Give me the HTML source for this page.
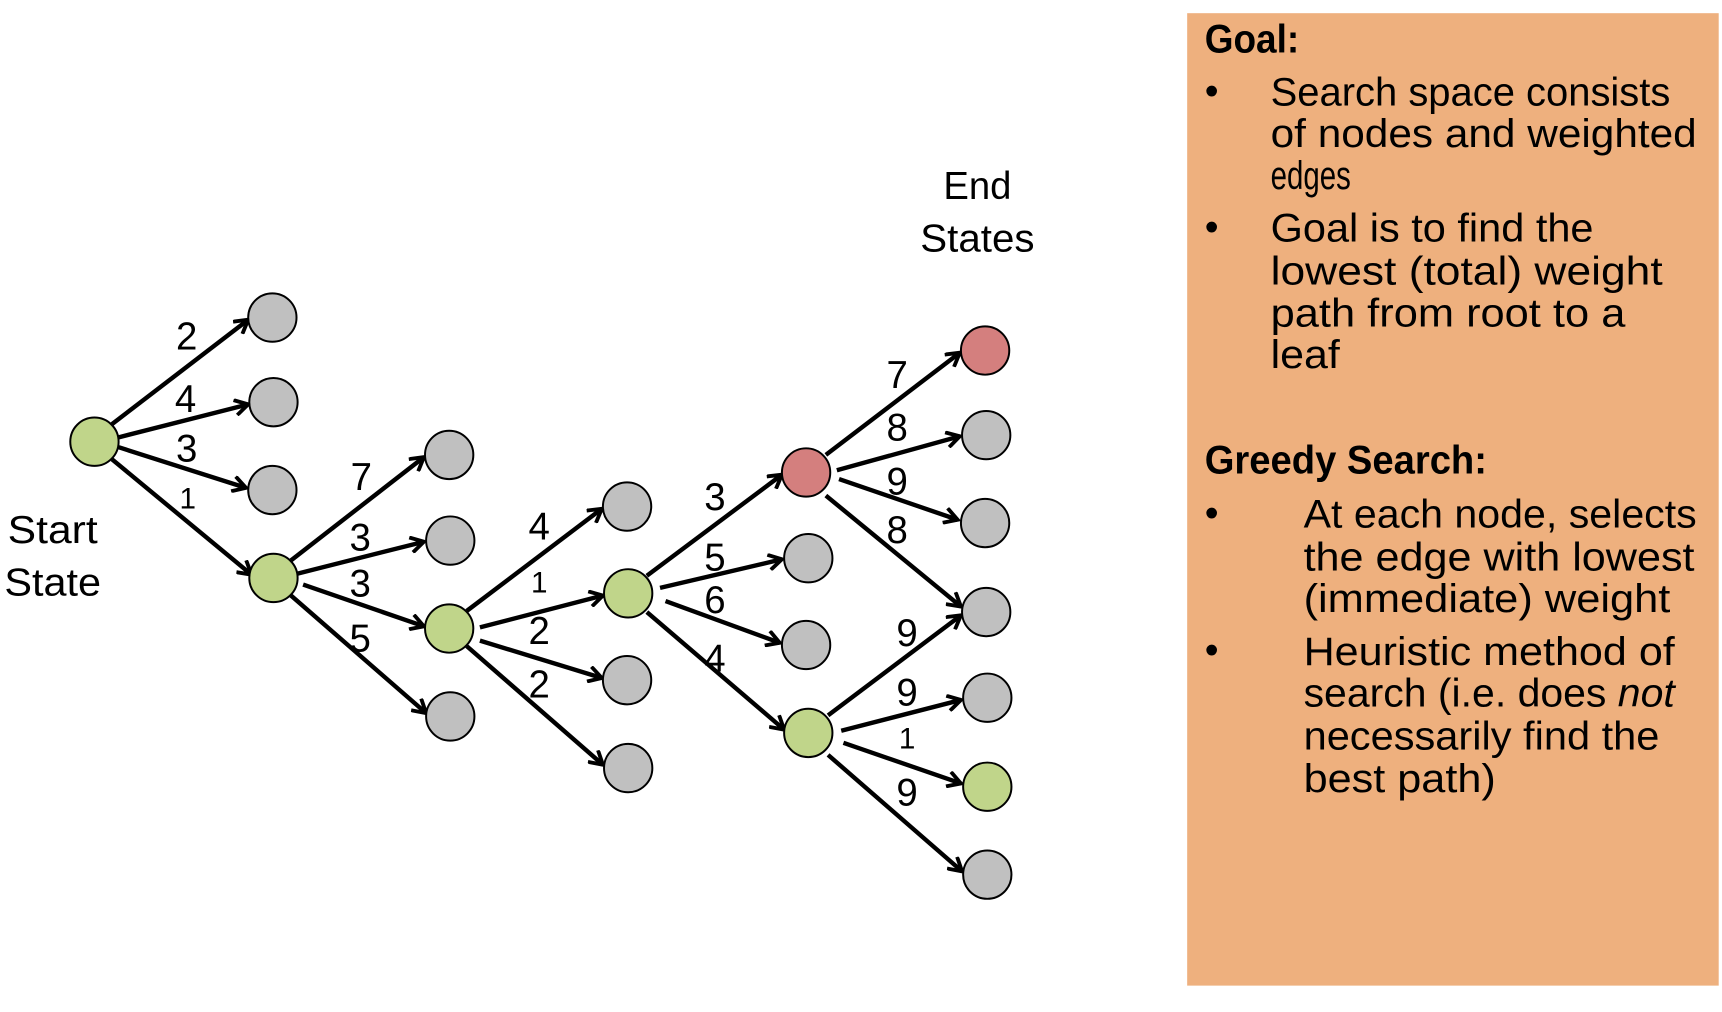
<!DOCTYPE html>
<html><head><meta charset="utf-8"><style>
html,body{margin:0;padding:0;background:#fff;}
svg{display:block}
text{font-family:"Liberation Sans",sans-serif;fill:#000}
</style></head><body>
<svg width="1722" height="1012" viewBox="0 0 1568 921" preserveAspectRatio="none" xmlns="http://www.w3.org/2000/svg">
<defs>
<marker id="a" markerWidth="16" markerHeight="16" refX="13" refY="8" orient="auto" markerUnits="userSpaceOnUse" viewBox="0 0 16 16">
<polyline points="1,1 13,8 1,15" fill="none" stroke="#000" stroke-width="3.5"/>
</marker>
</defs>
<rect x="1081" y="12" width="484" height="885" fill="#EEB07E"/>
<g stroke="#000" stroke-width="4" fill="none" marker-end="url(#a)">
<line x1="102" y1="386" x2="226" y2="291"/>
<line x1="108" y1="398" x2="226" y2="368"/>
<line x1="108" y1="407" x2="224" y2="444"/>
<line x1="102" y1="418" x2="229" y2="523"/>
<line x1="265" y1="510" x2="386" y2="416"/>
<line x1="271" y1="522" x2="386" y2="493"/>
<line x1="276" y1="532" x2="386" y2="570"/>
<line x1="265" y1="542" x2="388" y2="649"/>
<line x1="425" y1="556" x2="548" y2="463"/>
<line x1="437" y1="571" x2="549" y2="542"/>
<line x1="437" y1="583" x2="548" y2="617"/>
<line x1="425" y1="588" x2="549" y2="696"/>
<line x1="589" y1="524" x2="712" y2="432"/>
<line x1="601" y1="535" x2="712" y2="509"/>
<line x1="606" y1="547" x2="710" y2="585"/>
<line x1="589" y1="557" x2="714" y2="664"/>
<line x1="752" y1="414" x2="874" y2="321"/>
<line x1="762" y1="428" x2="874" y2="397"/>
<line x1="764" y1="436" x2="872" y2="473"/>
<line x1="752" y1="451" x2="875" y2="552"/>
<line x1="754" y1="651" x2="875" y2="560"/>
<line x1="766" y1="665" x2="875" y2="637"/>
<line x1="768" y1="676" x2="875" y2="713"/>
<line x1="754" y1="687" x2="876" y2="793"/>
</g>
<g stroke="#000" stroke-width="1.8">
<circle cx="86" cy="402" r="22" fill="#C0D58A"/>
<circle cx="248" cy="289" r="22" fill="#C0C0C0"/>
<circle cx="249" cy="366" r="22" fill="#C0C0C0"/>
<circle cx="248" cy="446" r="22" fill="#C0C0C0"/>
<circle cx="249" cy="526" r="22" fill="#C0D58A"/>
<circle cx="409" cy="414" r="22" fill="#C0C0C0"/>
<circle cx="410" cy="492" r="22" fill="#C0C0C0"/>
<circle cx="409" cy="572" r="22" fill="#C0D58A"/>
<circle cx="410" cy="652" r="22" fill="#C0C0C0"/>
<circle cx="571" cy="461" r="22" fill="#C0C0C0"/>
<circle cx="572" cy="540" r="22" fill="#C0D58A"/>
<circle cx="571" cy="619" r="22" fill="#C0C0C0"/>
<circle cx="572" cy="699" r="22" fill="#C0C0C0"/>
<circle cx="734" cy="430" r="22" fill="#D47F7E"/>
<circle cx="736" cy="508" r="22" fill="#C0C0C0"/>
<circle cx="734" cy="587" r="22" fill="#C0C0C0"/>
<circle cx="736" cy="667" r="22" fill="#C0D58A"/>
<circle cx="897" cy="319" r="22" fill="#D47F7E"/>
<circle cx="898" cy="396" r="22" fill="#C0C0C0"/>
<circle cx="897" cy="476" r="22" fill="#C0C0C0"/>
<circle cx="898" cy="557" r="22" fill="#C0C0C0"/>
<circle cx="899" cy="635" r="22" fill="#C0C0C0"/>
<circle cx="899" cy="716" r="22" fill="#C0D58A"/>
<circle cx="899" cy="796" r="22" fill="#C0C0C0"/>
</g>
<g font-size="35" text-anchor="middle">
<text x="170" y="318">2</text><text x="169" y="375">4</text><text x="170" y="420">3</text><text x="171" y="463" font-size="27">1</text>
<text x="329" y="446">7</text><text x="328" y="501">3</text><text x="328" y="543">3</text><text x="328" y="593">5</text>
<text x="491" y="491">4</text><text x="491" y="539" font-size="27">1</text><text x="491" y="586">2</text><text x="491" y="635">2</text>
<text x="651" y="464">3</text><text x="651" y="519">5</text><text x="651" y="558">6</text><text x="651" y="611">4</text>
<text x="817" y="353">7</text><text x="817" y="401">8</text><text x="817" y="450">9</text><text x="817" y="494">8</text>
<text x="826" y="588">9</text><text x="826" y="642">9</text><text x="826" y="681" font-size="27">1</text><text x="826" y="733">9</text>
</g>
<g font-size="35" text-anchor="middle">
<text x="48" y="494" textLength="82" lengthAdjust="spacingAndGlyphs">Start</text><text x="48" y="542" textLength="88" lengthAdjust="spacingAndGlyphs">State</text>
<text x="890" y="181" textLength="62" lengthAdjust="spacingAndGlyphs">End</text><text x="890" y="229" textLength="104" lengthAdjust="spacingAndGlyphs">States</text>
</g>
<g font-size="36">
<text x="1097" y="48" font-weight="bold" textLength="86" lengthAdjust="spacingAndGlyphs">Goal:</text>
<text x="1097" y="95">•</text>
<text x="1157" y="96" textLength="364" lengthAdjust="spacingAndGlyphs">Search space consists</text>
<text x="1157" y="134" textLength="388" lengthAdjust="spacingAndGlyphs">of nodes and weighted</text>
<text x="1157" y="172" textLength="73" lengthAdjust="spacingAndGlyphs">edges</text>
<text x="1097" y="219">•</text>
<text x="1157" y="220" textLength="294" lengthAdjust="spacingAndGlyphs">Goal is to find the</text>
<text x="1157" y="259" textLength="357" lengthAdjust="spacingAndGlyphs">lowest (total) weight</text>
<text x="1157" y="297" textLength="323" lengthAdjust="spacingAndGlyphs">path from root to a</text>
<text x="1157" y="335" textLength="63" lengthAdjust="spacingAndGlyphs">leaf</text>
<text x="1097" y="431" font-weight="bold" textLength="257" lengthAdjust="spacingAndGlyphs">Greedy Search:</text>
<text x="1097" y="479">•</text>
<text x="1187" y="480" textLength="358" lengthAdjust="spacingAndGlyphs">At each node, selects</text>
<text x="1187" y="519" textLength="356" lengthAdjust="spacingAndGlyphs">the edge with lowest</text>
<text x="1187" y="557" textLength="334" lengthAdjust="spacingAndGlyphs">(immediate) weight</text>
<text x="1097" y="604">•</text>
<text x="1187" y="605" textLength="338" lengthAdjust="spacingAndGlyphs">Heuristic method of</text>
<text x="1187" y="643" textLength="338" lengthAdjust="spacingAndGlyphs">search (i.e. does <tspan font-style="italic">not</tspan></text>
<text x="1187" y="682" textLength="324" lengthAdjust="spacingAndGlyphs">necessarily find the</text>
<text x="1187" y="721" textLength="175" lengthAdjust="spacingAndGlyphs">best path)</text>
</g>
</svg>
</body></html>
